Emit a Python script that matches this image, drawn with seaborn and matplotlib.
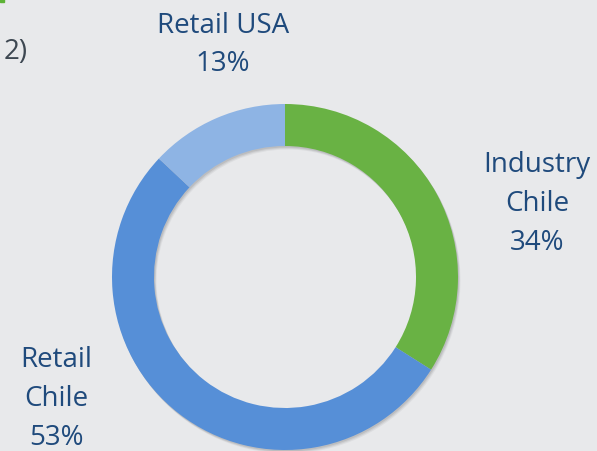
import matplotlib
matplotlib.use("Agg")
import matplotlib.pyplot as plt
import seaborn as sns

# Revenue breakdown by segment
segments = ["Industry\nChile", "Retail\nChile", "Retail USA"]
shares = [34, 53, 13]
colors = ["#69B244", "#568FD7", "#8EB4E4"]

bg = "#E8E9EB"
text_color = "#1F4A7C"

sns.set_theme(style="white", rc={"figure.facecolor": bg, "axes.facecolor": bg})
plt.rcParams["font.family"] = ["Open Sans", "DejaVu Sans"]

fig = plt.figure(figsize=(5.97, 4.52), dpi=100)
ax = fig.add_axes([0, 0, 1, 1])

cx, cy, r, width = 285, 174, 173, 42

# soft shadow under the ring
for off, alpha in [(3.5, 0.12), (2.5, 0.18), (1.5, 0.25)]:
    sh, _ = ax.pie(shares, center=(cx + off * 0.7, cy - off), radius=r,
                   startangle=90, counterclock=False, colors=["#8A8C90"] * 3,
                   wedgeprops=dict(width=width, linewidth=0), frame=True)
    for w in sh:
        w.set_alpha(alpha)

wedges, _ = ax.pie(shares, center=(cx, cy), radius=r, startangle=90,
                   counterclock=False, colors=colors,
                   wedgeprops=dict(width=width, linewidth=0), frame=True)
ax.set_xlim(0, 597)
ax.set_ylim(0, 452)
ax.set_aspect("equal")
ax.axis("off")

label_pos = [(537, 452 - 204), (56, 452 - 399), (223, 452 - 45)]
for name, val, (x, y) in zip(segments, shares, label_pos):
    ax.text(x, y, f"{name}\n{val}%", ha="center", va="center",
            fontsize=20, color=text_color, linespacing=1.52)

ax.text(28, 452 - 52, "2)", ha="right", va="center", fontsize=20,
        color="#3E4852")
fig.patches.append(plt.Rectangle((0, 1 - 3 / 452), 4 / 597, 3 / 452,
                                 transform=fig.transFigure, color="#5DB336"))

fig.savefig("out.png", dpi=100, facecolor=bg)
